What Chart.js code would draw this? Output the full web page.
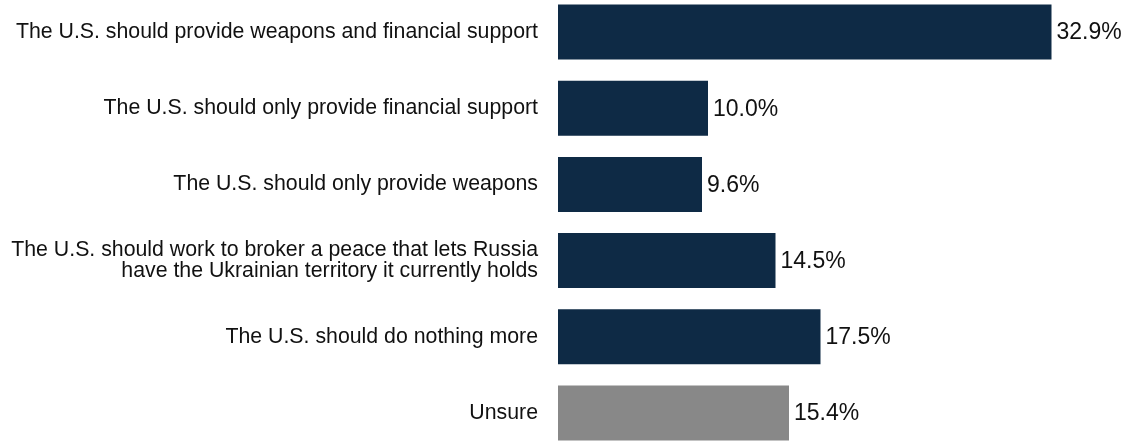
<!DOCTYPE html>
<html>
<head>
<meta charset="utf-8">
<script src="https://cdn.jsdelivr.net/npm/chart.js@4/dist/chart.umd.min.js"></script>
<style>
  html, body { margin: 0; padding: 0; background: #fff; overflow: hidden; }
  #wrap { position: absolute; left: 0; top: -6px; width: 1128px; height: 457px; }
</style>
</head>
<body>
<div id="wrap"><canvas id="chart"></canvas></div>
<script>
const categories = [
  "The U.S. should provide weapons and financial support",
  "The U.S. should only provide financial support",
  "The U.S. should only provide weapons",
  ["The U.S. should work to broker a peace that lets Russia", "have the Ukrainian territory it currently holds"],
  "The U.S. should do nothing more",
  "Unsure"
];
const shares = [32.9, 10.0, 9.6, 14.5, 17.5, 15.4];
const barColors = ["#0e2a45", "#0e2a45", "#0e2a45", "#0e2a45", "#0e2a45", "#888888"];

const valueLabels = {
  id: "valueLabels",
  afterDatasetsDraw(chart) {
    const ctx = chart.ctx;
    const meta = chart.getDatasetMeta(0);
    ctx.save();
    ctx.font = "23px 'Liberation Sans', Arial, sans-serif";
    ctx.fillStyle = "#111";
    ctx.textAlign = "left";
    ctx.textBaseline = "middle";
    meta.data.forEach((bar, i) => {
      ctx.fillText(shares[i].toFixed(1) + "%", bar.x + 5, bar.y + 1);
    });
    ctx.restore();
  }
};

new Chart(document.getElementById("chart"), {
  type: "bar",
  data: {
    labels: categories,
    datasets: [{
      data: shares,
      backgroundColor: barColors,
      borderWidth: 0,
      barPercentage: 0.722,
      categoryPercentage: 1
    }]
  },
  options: {
    indexAxis: "y",
    responsive: true,
    maintainAspectRatio: false,
    animation: false,
    layout: { padding: 0 },
    plugins: { legend: { display: false }, tooltip: { enabled: false } },
    scales: {
      x: { display: false, min: 0, max: 38 },
      y: {
        grid: { display: false, drawTicks: false },
        border: { display: false },
        ticks: {
          color: "#111",
          padding: 20,
          font: { family: "'Liberation Sans', Arial, sans-serif", size: 21.3, lineHeight: 1.0 }
        },
        afterFit(axis) {
          axis.width = 558;
          // labels sit inside their bands, so no extra room above/below
          axis.paddingTop = 0;
          axis.paddingBottom = 0;
        }
      }
    }
  },
  plugins: [valueLabels]
});
</script>
</body>
</html>
